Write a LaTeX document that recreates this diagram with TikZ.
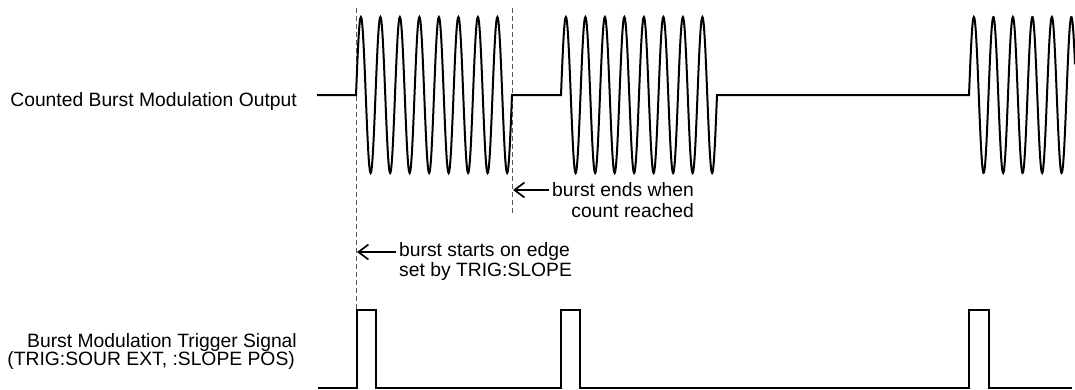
\documentclass[tikz,border=0pt]{standalone}
\usepackage{fontspec}
\setmainfont{Liberation Sans}
\usetikzlibrary{arrows.meta}
\begin{document}
\begin{tikzpicture}[x=1pt,y=-1pt,
  sig/.style={line width=2pt, line join=miter},
  guide/.style={line width=1pt, gray!70!black, dash pattern=on 5pt off 3pt},
  lbl/.style={inner sep=0pt, font=\fontsize{19.3}{21}\selectfont},
  callout/.style={line width=1.7pt, -{Straight Barb[length=10pt,width=15pt]}}]
\useasboundingbox (0,0) rectangle (1075,389);

% guide lines
\coordinate (g1top) at (356,8);
\coordinate (g1bot) at (356,310);
\coordinate (g2top) at (512,8);
\coordinate (g2bot) at (512,213);
\draw[guide] (g1top) -- (g1bot);
\draw[guide] (g2top) -- (g2bot);

% output signal
\draw[sig] (317,95) -- (356,95)
  -- plot[domain=356:512,samples=321] (\x,{95-78*sin(18.4615*(\x-356))})
  -- (561,95)
  -- plot[domain=561:717,samples=321] (\x,{95-78*sin(18.4615*(\x-561))})
  -- (969,95)
  -- plot[domain=969:1075,samples=221] (\x,{95-78*sin(18.4615*(\x-969))});

% trigger signal
\draw[sig] (318,388) -- (357,388) -- (357,310) -- (376,310) -- (376,388)
  -- (561,388) -- (561,310) -- (580,310) -- (580,388)
  -- (969,388) -- (969,310) -- (989,310) -- (989,388) -- (1072,388);

% labels
\node[lbl, anchor=base east] (outlbl) at (297,106.5) {Counted Burst Modulation Output};
\node[lbl, anchor=base east] (trigA) at (297,347) {Burst Modulation Trigger Signal};
\node[lbl, anchor=base east] (trigB) at (295,365.8) {(TRIG:SOUR EXT, :SLOPE POS)};

% callouts
\node[lbl, anchor=base east] (endsA) at (694,196) {burst ends when};
\node[lbl, anchor=base east] (endsB) at (694,217) {count reached};
\coordinate (endtip) at (513,190);
\draw[callout] ([xshift=-3pt]endsA.west |- endtip) -- (endtip);

\node[lbl, anchor=base west] (startA) at (399,256.5) {burst starts on edge};
\node[lbl, anchor=base west] (startB) at (399,276.5) {set by TRIG:SLOPE};
\coordinate (starttip) at (357,252);
\draw[callout] ([xshift=-3pt]startA.west |- starttip) -- (starttip);
\end{tikzpicture}
\end{document}
